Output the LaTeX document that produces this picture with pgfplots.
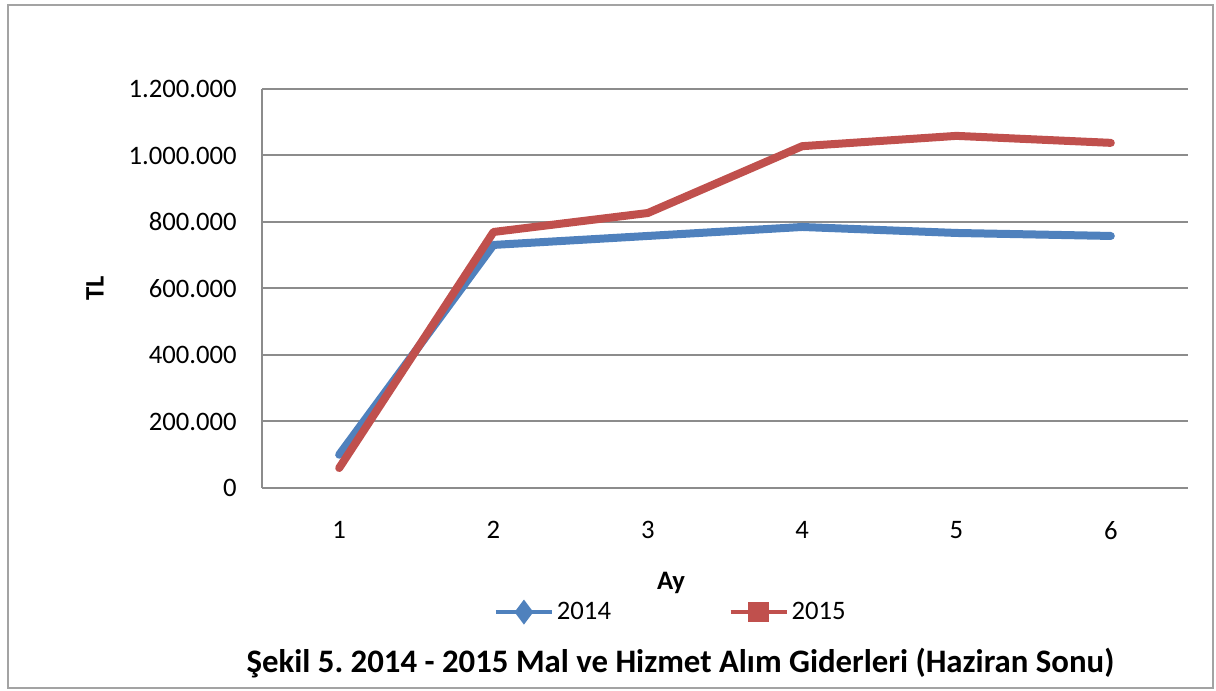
\documentclass[border=0pt]{standalone}
\usepackage{fontspec}
\setmainfont{Carlito}
\usepackage{pgfplots}
\pgfplotsset{compat=1.18}
\frenchspacing

\definecolor{s14}{HTML}{4F81BD}
\definecolor{s15}{HTML}{C0504D}
\definecolor{gridc}{HTML}{8C8C8C}

\begin{document}
\begin{tikzpicture}[x=0.75pt,y=0.75pt]
\useasboundingbox (0,0) rectangle (1216,691);
\draw[gridc!80, line width=1.5pt] (8,3) rectangle (1213,686);
\begin{axis}[
  at={(196.5pt,152.25pt)}, anchor=south west,
  scale only axis, width=694.5pt, height=299.25pt,
  xmin=0.5, xmax=6.5, ymin=0, ymax=1200000,
  xtick={1,...,6}, xticklabels={1,2,3,4,5,6},
  ytick={0,200000,400000,600000,800000,1000000,1200000},
  yticklabels={0,200.000,400.000,600.000,800.000,1.000.000,1.200.000},
  scaled y ticks=false,
  axis lines=left, axis line style={-, gridc, line width=1.5pt},
  ymajorgrids, grid style={gridc, line width=1.5pt},
  major tick length=0pt,
  ticklabel style={font=\fontsize{20}{24}\selectfont},
  yticklabel style={anchor=east, inner sep=0pt, xshift=-18.75pt},
  xticklabel style={anchor=north, inner sep=0pt, yshift=-25pt},
  xlabel={Ay}, ylabel={TL},
  label style={font=\fontsize{20}{24}\selectfont\bfseries},
  xlabel style={at={(axis description cs:0.4417,-0.238)}, anchor=center},
  ylabel style={at={(axis description cs:-0.1803,0.501)}, anchor=center},
  legend columns=2,
  legend style={draw=none, fill=none, at={(axis description cs:0.4417,-0.311)}, anchor=center,
    font=\fontsize{20}{24}\selectfont, /tikz/every even column/.append style={column sep=86pt}},
  legend image code/.code={\draw[mark repeat=2,mark phase=2,#1] plot coordinates {(0pt,0pt)(21pt,0pt)(42pt,0pt)};},
]
\addplot[s14, line width=6pt, line cap=round, line join=round, forget plot]
  coordinates {(1,100000) (2,731000) (3,758000) (4,785000) (5,767000) (6,758000)};
\addplot[s15, line width=6pt, line cap=round, line join=round, forget plot]
  coordinates {(1,60000) (2,770000) (3,827000) (4,1028000) (5,1059000) (6,1038000)};
\addlegendimage{s14, line width=3.5pt, mark=diamond*, mark size=6.5pt, mark options={solid}}
\addlegendentry{2014}
\addlegendimage{s15, line width=3.5pt, mark=square*, mark size=6pt}
\addlegendentry{2015}
\end{axis}
\node[font=\fontsize{24.6}{29}\selectfont\bfseries] at (680.5,28) {Şekil 5. 2014 - 2015 Mal ve Hizmet Alım Giderleri (Haziran Sonu)};
\end{tikzpicture}
\end{document}
